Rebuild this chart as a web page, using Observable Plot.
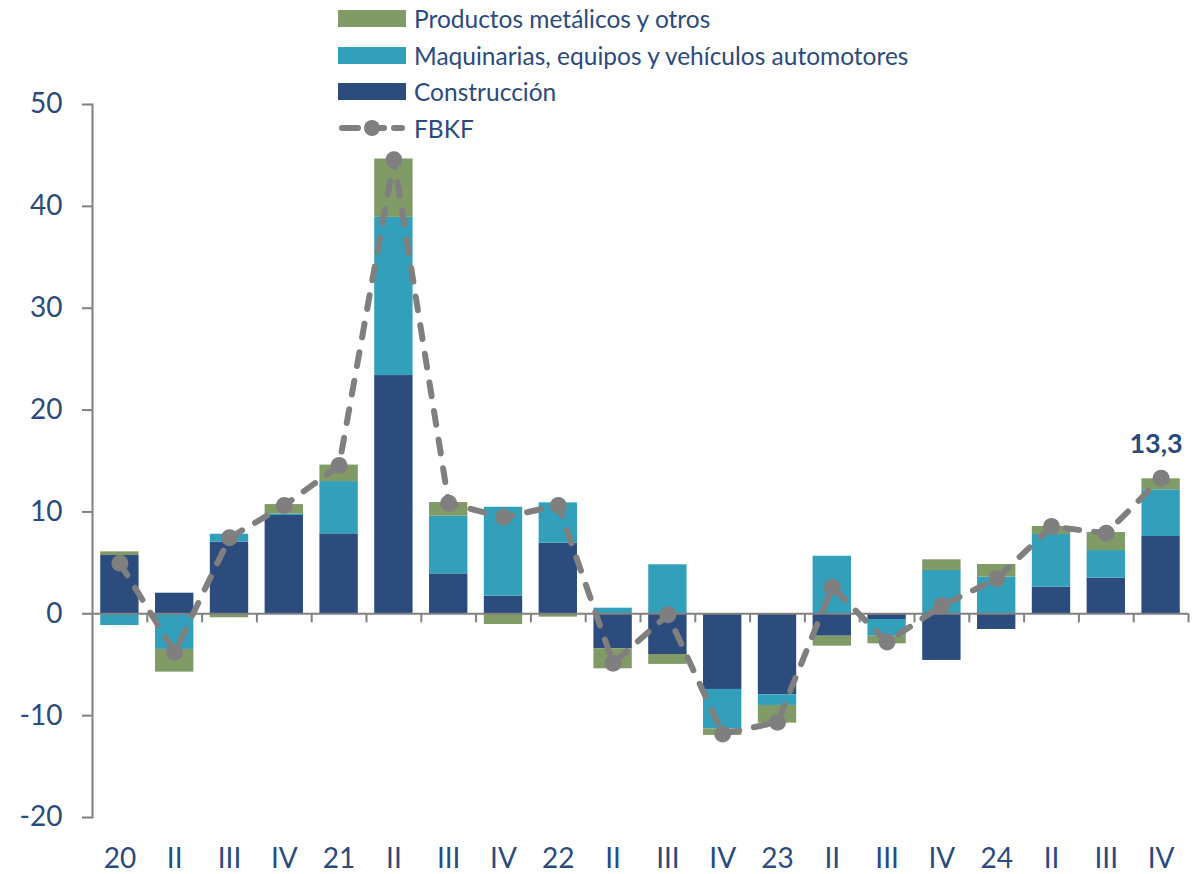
<!DOCTYPE html>
<html>
<head>
<meta charset="utf-8">
<script src="https://cdn.jsdelivr.net/npm/d3@7"></script>
<script src="https://cdn.jsdelivr.net/npm/@observablehq/plot@0.6"></script>
<style>
  html, body { margin: 0; padding: 0; background: #fff; }
  #wrap { position: relative; width: 1204px; height: 874px; font-family: Lato, "Open Sans", sans-serif; }
  #legend { position: absolute; left: 338px; top: 0px; color: #2b4a7e; font-size: 24.5px; z-index: 2; }
  .row { display: flex; align-items: center; height: 36.7px; }
  .sw { width: 68px; height: 17px; margin-right: 8px; }
  .lbl { white-space: nowrap; }
</style>
</head>
<body>
<div id="wrap"><div id="legend"></div></div>
<script>
const categories = ["20","II","III","IV","21","II","III","IV","22","II","III","IV","23","II","III","IV","24","II","III","IV"];
const construccion = [5.72, 2.02, 7.03, 9.65, 7.85, 23.39, 3.92, 1.73, 6.93, -3.43, -4.0, -7.43, -7.95, -2.2, -0.56, -4.58, -1.54, 2.61, 3.5, 7.59];
const maquinaria = [-1.15, -3.5, 0.78, 0.15, 5.13, 15.53, 5.66, 8.73, 3.96, 0.55, 4.81, -3.86, -1.05, 5.65, -1.64, 4.25, 3.6, 5.17, 2.71, 4.58];
const productos = [0.36, -2.23, -0.39, 0.92, 1.62, 5.73, 1.34, -1.05, -0.33, -1.97, -0.97, -0.65, -1.74, -0.98, -0.75, 1.05, 1.24, 0.79, 1.77, 1.08];
const fbkf = [4.97, -3.77, 7.46, 10.63, 14.55, 44.58, 10.85, 9.48, 10.63, -4.85, -0.1, -11.8, -10.64, 2.61, -2.78, 0.81, 3.43, 8.57, 7.91, 13.3];
const seriesNames = ["Construcción", "Maquinarias, equipos y vehículos automotores", "Productos metálicos y otros"];
const seriesColors = ["#2c4c7e", "#33a0bb", "#819b67"];
const lineName = "FBKF";
const lineColor = "#7f7f7f";
const yTicks = [-20, -10, 0, 10, 20, 30, 40, 50];
const lastLabel = "13,3";

const W = 1204, H = 874, mL = 92, mR = 16, mT = 104, mB = 57;
const idx = categories.map((_, i) => i);
const step = (W - mL - mR) / categories.length;
const textColor = "#2b4a7e";
const axisGray = "#808080";

const rows = [];
[construccion, maquinaria, productos].forEach((arr, s) => {
  arr.forEach((v, i) => rows.push({i, serie: seriesNames[s], value: v}));
});
const line = fbkf.map((v, i) => ({i, value: v}));

const chart = Plot.plot({
  width: W, height: H,
  marginLeft: mL, marginRight: mR, marginTop: mT, marginBottom: mB,
  style: {fontFamily: "Lato, 'Open Sans', sans-serif", background: "#fff"},
  x: {type: "band", domain: idx, paddingInner: 0.3, paddingOuter: 0.15, round: false, label: null},
  y: {domain: [-20, 50], label: null},
  color: {domain: seriesNames, range: seriesColors},
  marks: [
    Plot.barY(rows, {x: "i", y: "value", fill: "serie", order: null}),
    Plot.frame({anchor: "left", stroke: axisGray, strokeWidth: 2}),
    Plot.ruleY([0], {stroke: axisGray, strokeWidth: 2}),
    Plot.ruleX(idx.slice(1), {x: d => d, y1: 0, y2: 0, dx: -step / 2, insetBottom: -9, stroke: axisGray, strokeWidth: 2}),
    Plot.ruleX([idx[idx.length - 1]], {x: d => d, y1: 0, y2: 0, dx: step / 2, insetBottom: -9, stroke: axisGray, strokeWidth: 2}),
    Plot.axisY({ticks: yTicks, tickSize: 10, tickPadding: 20, stroke: axisGray, strokeWidth: 2, fill: textColor, fontSize: 28, tickFormat: d => String(d)}),
    Plot.axisX({tickSize: 0, tickPadding: 31, fill: textColor, fontSize: 28, tickFormat: i => categories[i]}),
    Plot.line(line, {x: "i", y: "value", stroke: lineColor, strokeWidth: 6, strokeDasharray: "14,15", strokeLinecap: "round"}),
    Plot.dot(line, {x: "i", y: "value", r: 8.5, fill: lineColor, stroke: "none"}),
    Plot.text([line[line.length - 1]], {x: "i", y: "value", text: () => lastLabel, dy: -34, dx: -5, fill: textColor, fontSize: 27, fontWeight: "bold"})
  ]
});
chart.style.position = "absolute"; chart.style.left = "0"; chart.style.top = "0";
document.getElementById("wrap").prepend(chart);

const legend = document.getElementById("legend");
const items = [
  {name: seriesNames[2], color: seriesColors[2]},
  {name: seriesNames[1], color: seriesColors[1]},
  {name: seriesNames[0], color: seriesColors[0]}
];
for (const it of items) {
  const r = document.createElement("div"); r.className = "row";
  const s = document.createElement("div"); s.className = "sw"; s.style.background = it.color;
  const t = document.createElement("span"); t.className = "lbl"; t.textContent = it.name;
  r.append(s, t); legend.append(r);
}
{
  const r = document.createElement("div"); r.className = "row";
  const svg = d3.create("svg").attr("width", 68).attr("height", 20).style("margin-right", "8px");
  svg.append("line").attr("x1", 4).attr("x2", 64).attr("y1", 10).attr("y2", 10)
    .attr("stroke", lineColor).attr("stroke-width", 6).attr("stroke-dasharray", "16,10").attr("stroke-linecap", "round");
  svg.append("circle").attr("cx", 34).attr("cy", 10).attr("r", 8).attr("fill", lineColor);
  const t = document.createElement("span"); t.className = "lbl"; t.textContent = lineName;
  r.append(svg.node(), t); legend.append(r);
}
</script>
</body>
</html>
